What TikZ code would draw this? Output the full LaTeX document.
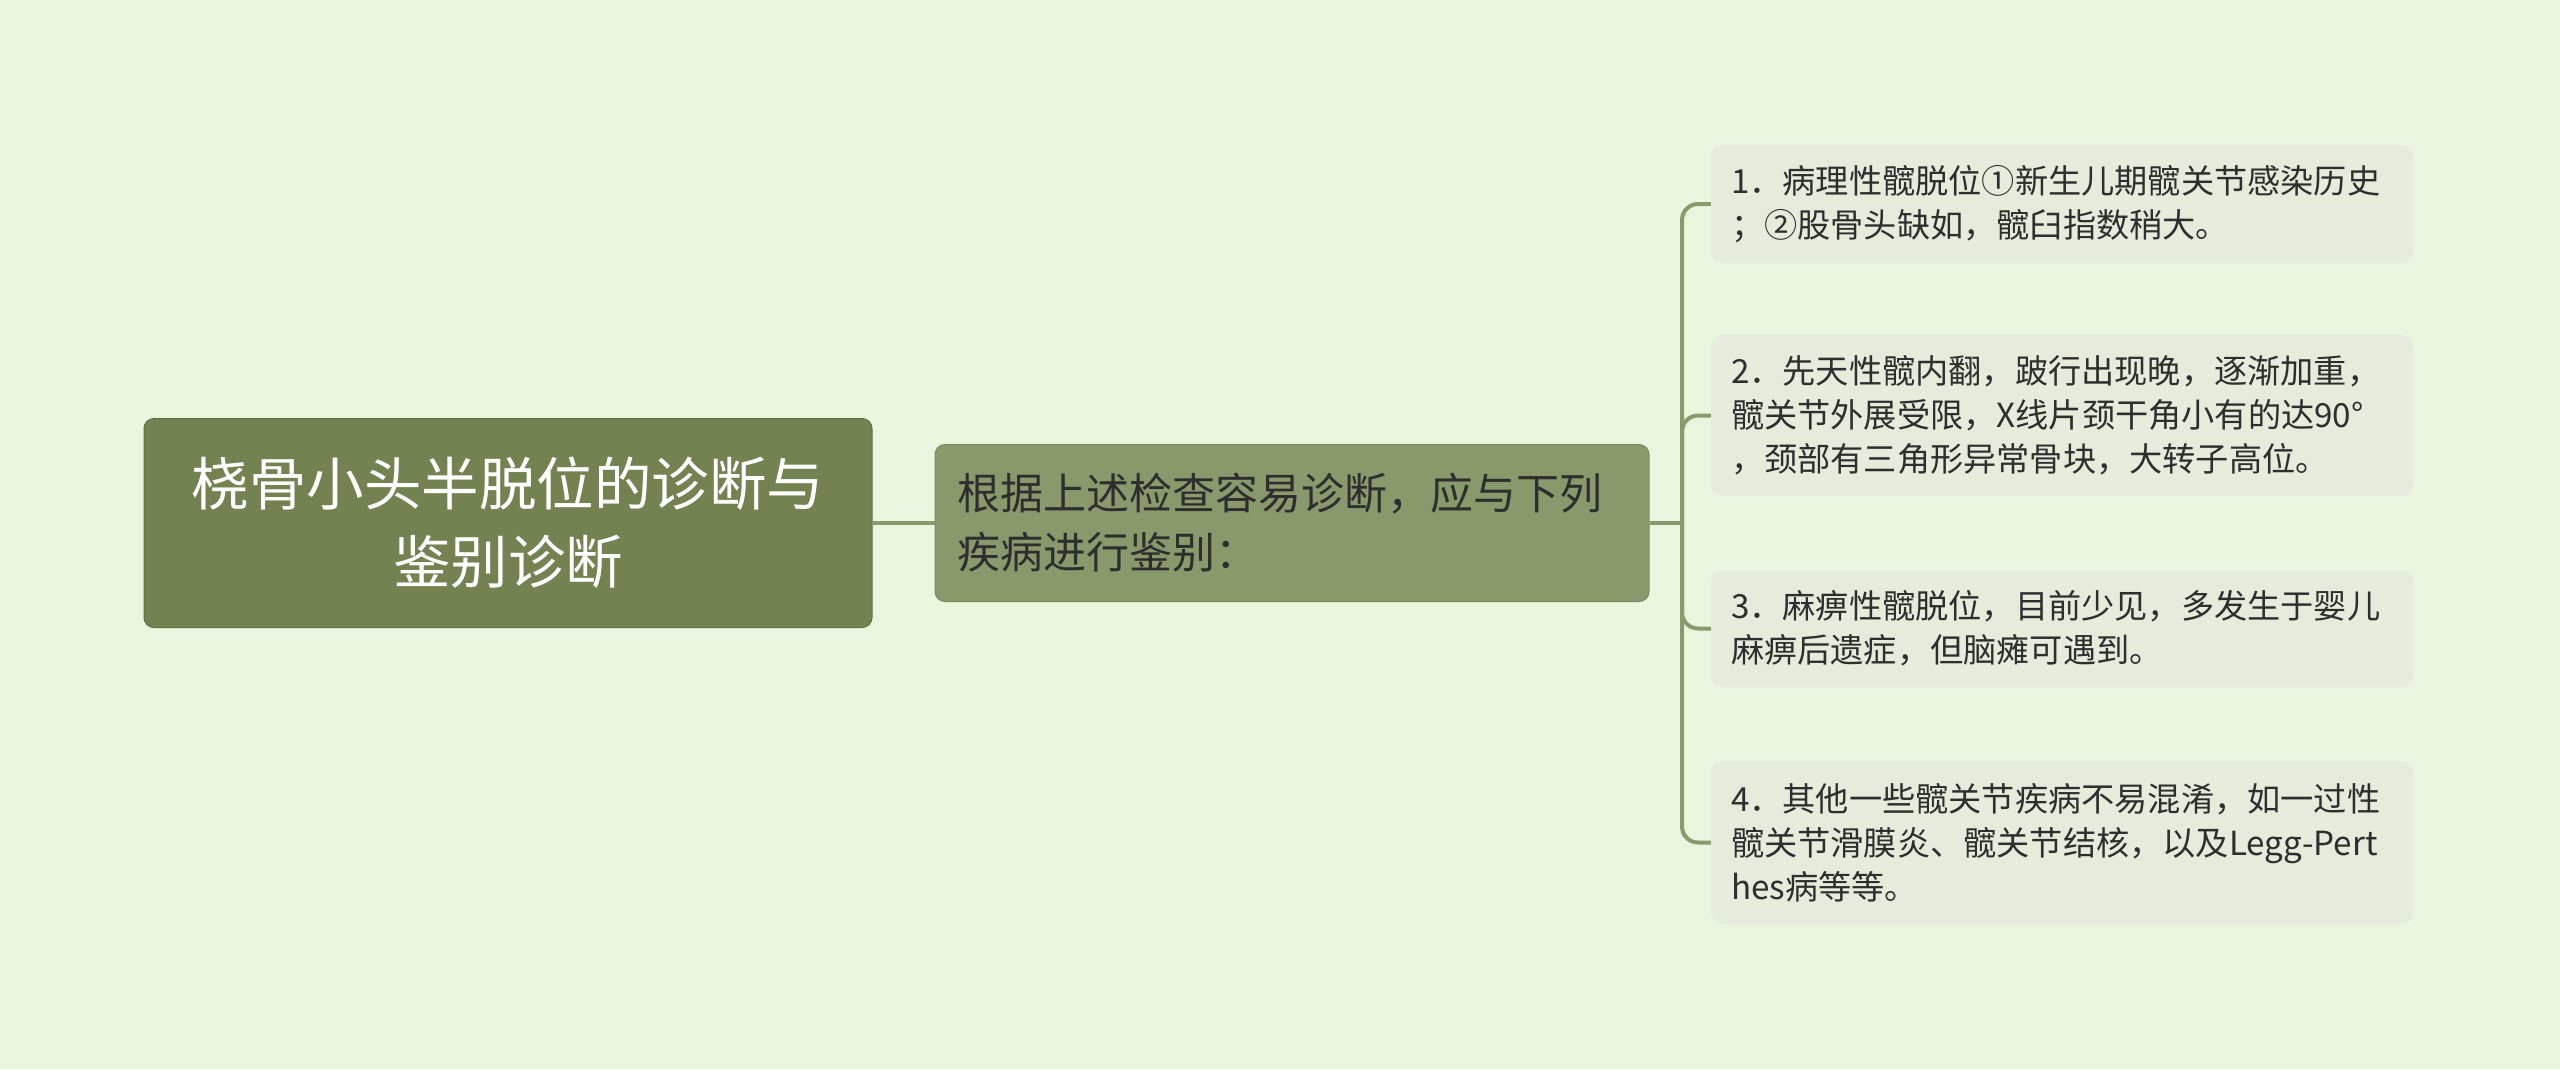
\documentclass[tikz,border=0pt]{standalone}
\usepackage{fontspec}
\newfontfamily\cjk{Noto Sans CJK SC}
\definecolor{bg}{HTML}{E9F5DC}
\definecolor{rootc}{HTML}{738250}
\definecolor{midc}{HTML}{8A996C}
\definecolor{leafc}{HTML}{E6EBDB}
\definecolor{linec}{HTML}{8A9A6C}
\definecolor{txt}{HTML}{2E2E2E}
\tikzset{
  rootbox/.style={fill=rootc, draw=rootc!85!black, line width=1pt, rounded corners=10pt,
    minimum width=728pt, minimum height=209pt, inner xsep=20pt, text width=688pt, align=center,
    text=white, font={\cjk\fontsize{57.5}{78}\selectfont}},
  midbox/.style={fill=midc, draw=midc!90!black, line width=1pt, rounded corners=10pt,
    minimum width=714pt, minimum height=157pt, inner xsep=22pt, text width=670pt, align=left,
    text=txt, font={\cjk\fontsize{43}{59}\selectfont}},
  leafbox/.style={fill=leafc, rounded corners=12pt,
    minimum width=702pt, inner xsep=20pt, text width=662pt, align=left,
    text=txt, font={\cjk\fontsize{33.2}{44}\selectfont}},
  conn/.style={draw=linec, line width=4pt},
}
\begin{document}
\begin{tikzpicture}[x=1pt,y=-1pt]
\useasboundingbox[fill=bg] (0,0) rectangle (2560,1069);
\node[rootbox] (root) at (508,523) {桡骨小头半脱位的诊断与\\鉴别诊断};
\node[midbox] (mid) at (1292,523) {根据上述检查容易诊断，应与下列\\疾病进行鉴别：};
\node[leafbox, minimum height=118pt] (l1) at (2062,204) {1．病理性髋脱位①新生儿期髋关节感染历史\\；②股骨头缺如，髋臼指数稍大。};
\node[leafbox, minimum height=161pt] (l2) at (2062,415.5) {2．先天性髋内翻，跛行出现晚，逐渐加重，\\髋关节外展受限，X线片颈干角小有的达90°\\，颈部有三角形异常骨块，大转子高位。};
\node[leafbox, minimum height=117pt] (l3) at (2062,628.5) {3．麻痹性髋脱位，目前少见，多发生于婴儿\\麻痹后遗症，但脑瘫可遇到。};
\node[leafbox, minimum height=163pt] (l4) at (2062,842.5) {4．其他一些髋关节疾病不易混淆，如一过性\\髋关节滑膜炎、髋关节结核，以及Legg-Pert\\hes病等等。};
\coordinate (fork) at (1682,523);
\draw[conn] (root.east) -- (mid.west);
\draw[conn] (mid.east) -- (fork);
\foreach \n in {l1,l2,l3,l4}{
  \draw[conn, rounded corners=16pt] (fork) |- (\n.west);
}
\end{tikzpicture}
\end{document}
